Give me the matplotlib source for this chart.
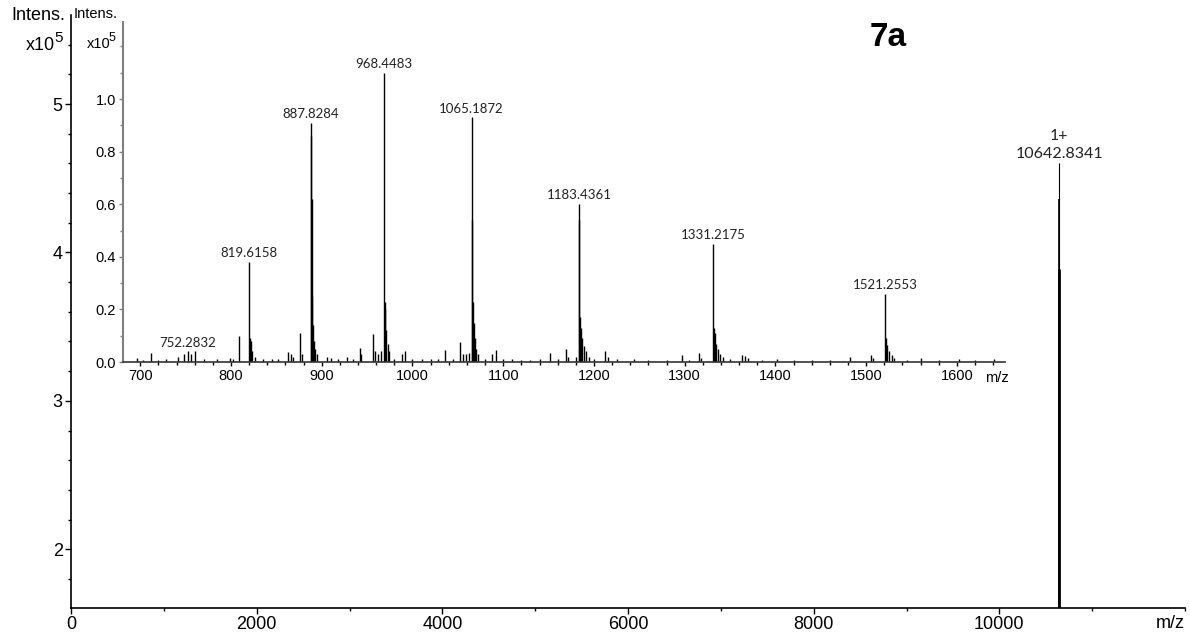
import matplotlib
matplotlib.use("Agg")
import matplotlib.pyplot as plt
from matplotlib.ticker import MultipleLocator, FixedLocator

plt.rcParams["font.family"] = ["Liberation Sans", "DejaVu Sans"]

# main spectrum (x10^5)
main_mz = [10642.8, 10643.4, 10644.0]
main_int = [4.60, 4.36, 3.89]
main_widths = [0.8, 1.2, 2.0]
main_label = "1+\n10642.8341"

# inset spectrum (x10^5)
inset_mz = [
    696.4, 703.0, 711.8, 720.0, 728.0, 741.2, 748.5, 752.3, 756.0, 760.6,
    770.0, 784.5, 798.5, 802.0, 808.8, 819.6, 820.6, 821.8, 823.5, 826.0,
    835.0, 845.0, 852.0, 862.8, 866.0, 868.0, 876.4, 878.0, 887.8, 888.3,
    888.9, 889.6, 890.5, 891.6, 893.0, 895.0, 905.8, 910.0, 918.0, 927.9,
    934.0, 941.8, 943.0, 956.1, 959.0, 962.4, 965.5, 968.4, 969.3, 970.2,
    971.2, 972.5, 974.5, 980.0, 988.5, 992.0, 1000.0, 1010.0, 1020.0, 1028.0,
    1036.3, 1045.0, 1052.8, 1056.0, 1059.0, 1062.0, 1065.2, 1065.7, 1066.5, 1067.5,
    1068.6, 1070.0, 1072.0, 1080.0, 1087.8, 1091.8, 1100.0, 1110.0, 1120.0, 1130.0,
    1140.0, 1151.5, 1160.0, 1169.4, 1171.0, 1180.0, 1183.4, 1183.9, 1184.8, 1186.0,
    1187.2, 1189.0, 1191.5, 1194.0, 1200.0, 1212.7, 1215.0, 1225.0, 1243.6, 1260.0,
    1280.0, 1296.5, 1305.0, 1315.6, 1318.0, 1331.2, 1332.0, 1333.0, 1334.5, 1336.5,
    1339.0, 1342.0, 1350.0, 1363.3, 1366.0, 1370.0, 1385.0, 1402.0, 1420.0, 1440.0,
    1460.0, 1482.0, 1504.9, 1507.0, 1521.3, 1522.2, 1523.5, 1525.5, 1528.0, 1531.0,
    1545.0, 1560.0, 1580.0, 1602.0, 1620.0, 1640.5,
]
inset_int = [
    0.016, 0.008, 0.034, 0.008, 0.010, 0.020, 0.030, 0.040, 0.030, 0.040,
    0.010, 0.010, 0.015, 0.012, 0.100, 0.380, 0.090, 0.080, 0.040, 0.020,
    0.010, 0.012, 0.010, 0.038, 0.030, 0.020, 0.110, 0.030, 0.910, 0.860,
    0.620, 0.250, 0.140, 0.080, 0.050, 0.030, 0.020, 0.015, 0.010, 0.020,
    0.010, 0.055, 0.030, 0.105, 0.040, 0.030, 0.040, 1.100, 0.230, 0.200,
    0.120, 0.070, 0.040, 0.012, 0.030, 0.040, 0.010, 0.010, 0.010, 0.010,
    0.047, 0.012, 0.075, 0.030, 0.030, 0.035, 0.930, 0.540, 0.230, 0.150,
    0.090, 0.050, 0.030, 0.012, 0.030, 0.047, 0.010, 0.010, 0.008, 0.008,
    0.010, 0.034, 0.010, 0.050, 0.020, 0.020, 0.600, 0.540, 0.170, 0.130,
    0.090, 0.060, 0.040, 0.020, 0.012, 0.040, 0.020, 0.010, 0.012, 0.008,
    0.008, 0.028, 0.008, 0.034, 0.015, 0.450, 0.130, 0.110, 0.070, 0.050,
    0.030, 0.020, 0.010, 0.028, 0.024, 0.015, 0.008, 0.010, 0.008, 0.008,
    0.008, 0.020, 0.028, 0.015, 0.260, 0.090, 0.066, 0.040, 0.025, 0.015,
    0.008, 0.015, 0.008, 0.010, 0.008, 0.012,
]

label_mz = [752.2832, 819.6158, 887.8284, 968.4483, 1065.1872, 1183.4361, 1331.2175, 1521.2553]
label_int = [0.040, 0.380, 0.910, 1.100, 0.930, 0.600, 0.450, 0.260]

main_xticks = [0, 2000, 4000, 6000, 8000, 10000]
main_yticks = [2, 3, 4, 5]
inset_xticks = [700, 800, 900, 1000, 1100, 1200, 1300, 1400, 1500, 1600]
inset_yticks = [0.0, 0.2, 0.4, 0.6, 0.8, 1.0]

fig = plt.figure(figsize=(11.9, 6.33), dpi=100)

# ---- main axes
ax = fig.add_axes([71 / 1190, 1 - 608 / 633, 1114 / 1190, 593 / 633])
ax.vlines(main_mz, 0, main_int, colors="black", linewidths=main_widths)
ax.set_xlim(0, 12000)
ax.set_ylim(1.604, 5.60)
for s in ["top", "right"]:
    ax.spines[s].set_visible(False)
for s in ["left", "bottom"]:
    ax.spines[s].set_linewidth(1.2)
ax.set_xticks(main_xticks)
ax.xaxis.set_minor_locator(MultipleLocator(1000))
ax.set_yticks(main_yticks)
ax.yaxis.set_minor_locator(FixedLocator([1.8, 2.2, 2.4, 2.6, 2.8, 3.2, 3.4, 3.6, 3.8,
                                         4.2, 4.4, 4.6, 4.8, 5.2, 5.4]))
ax.tick_params(which="major", length=4, width=1, labelsize=13, pad=2)
ax.tick_params(which="minor", length=2.5, width=1)
ax.annotate(main_label, (main_mz[0], main_int[0]), xytext=(0, 2),
            textcoords="offset points", ha="center", va="bottom",
            fontsize=11.5, family="Lato", linespacing=1.3, color="#222222")

# axis unit labels, Bruker style
fig.text(65 / 1190, 1 - 15 / 633, "Intens.", ha="right", va="center", fontsize=13)
fig.text(55 / 1190, 1 - 45 / 633, "x10", ha="right", va="center", fontsize=13)
fig.text(54.5 / 1190, 1 - 38 / 633, "5", ha="left", va="center", fontsize=11)
fig.text(1170 / 1190, 1 - 623 / 633, "m/z", ha="center", va="center", fontsize=13)
fig.text(888 / 1190, 1 - 38 / 633, "7a", ha="center", va="center",
         fontsize=24, fontweight="bold")

# ---- inset axes
ax_in = fig.add_axes([123 / 1190, 1 - 362 / 633, 882 / 1190, 340 / 633])
ax_in.patch.set_alpha(0)
ax_in.vlines(inset_mz, 0, inset_int, colors="black", linewidths=1.0)
ax_in.set_xlim(681, 1653)
ax_in.set_ylim(0, 1.293)
for s in ["top", "right"]:
    ax_in.spines[s].set_visible(False)
ax_in.spines["left"].set_color("#7f7f7f")
ax_in.spines["left"].set_linewidth(1.5)
ax_in.spines["bottom"].set_color("#333333")
ax_in.spines["bottom"].set_linewidth(1.2)
ax_in.set_xticks(inset_xticks)
ax_in.xaxis.set_minor_locator(MultipleLocator(20))
ax_in.set_yticks(inset_yticks)
ax_in.set_yticklabels([f"{v:.1f}" for v in inset_yticks])
ax_in.yaxis.set_minor_locator(FixedLocator([0.1, 0.3, 0.5, 0.7, 0.9, 1.1, 1.2]))
ax_in.tick_params(which="major", length=3, width=1, labelsize=10.5, pad=2)
ax_in.tick_params(which="minor", length=2.2, width=1)
ax_in.tick_params(axis="y", which="both", color="#7f7f7f")
for mz, h in zip(label_mz, label_int):
    ax_in.annotate(f"{mz:.4f}", (mz, h), xytext=(0, 2), textcoords="offset points",
                   ha="center", va="bottom", fontsize=9.5, family="Lato",
                   color="#222222")
fig.text(118 / 1190, 1 - 14 / 633, "Intens.", ha="right", va="center", fontsize=10.5)
fig.text(111 / 1190, 1 - 44 / 633, "x10", ha="right", va="center", fontsize=10.5)
fig.text(109 / 1190, 1 - 38 / 633, "5", ha="left", va="center", fontsize=9)
fig.text(997 / 1190, 1 - 378 / 633, "m/z", ha="center", va="center", fontsize=10.5)

fig.savefig("out.png", dpi=100)
